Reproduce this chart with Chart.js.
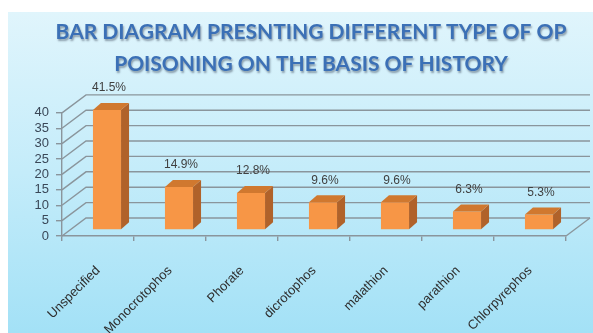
<!DOCTYPE html>
<html>
<head>
<meta charset="utf-8">
<script src="https://cdn.jsdelivr.net/npm/chart.js@4"></script>
<style>
  html, body { margin: 0; padding: 0; background: #fff; }
  #wrap { width: 593px; height: 333px; }
</style>
</head>
<body>
<div id="wrap"><canvas id="opChart" width="593" height="333"></canvas></div>
<script>
const titleLines = ['BAR DIAGRAM PRESNTING DIFFERENT TYPE OF OP', 'POISONING ON THE BASIS OF HISTORY']
const categories = ['Unspecified', 'Monocrotophos', 'Phorate', 'dicrotophos', 'malathion', 'parathion', 'Chlorpyrephos']
const cases = [39, 14, 12, 9, 9, 6, 5]
const percentLabels = ['41.5%', '14.9%', '12.8%', '9.6%', '9.6%', '6.3%', '5.3%']
const yMin = 0
const yMax = 40
const yStep = 5

const gridColor = '#8a959c'
const depth = { x: 24, y: -18 }     // side wall / back wall offset
const barShift = { x: 9, y: -6 }    // bars stand a bit inside the floor
const barDepth = { x: 8, y: -7 }

const colors = {
    front: '#F79646',
    side: '#B0622A',
    top: '#D0782F'
}

// background panel, white frame on top and left
const panelBg = {
    id: 'panelBg',
    beforeDraw(chart) {
        const ctx = chart.ctx
        ctx.save()
        ctx.fillStyle = '#ffffff'
        ctx.fillRect(0, 0, chart.width, chart.height)
        const g = ctx.createLinearGradient(0, 12, 0, chart.height)
        g.addColorStop(0, '#e0f5fc')
        g.addColorStop(0.5, '#c4ecfa')
        g.addColorStop(1, '#a3e1f6')
        ctx.fillStyle = g
        ctx.fillRect(8, 12, chart.width - 8, chart.height - 12)
        ctx.restore()
    }
}

// title drawn by chart.js, just nudged right and given a shadow
const titleShadow = {
    id: 'titleShadow',
    afterLayout(chart) {
        const t = chart.titleBlock
        if (!t || t._shadowed) return
        const draw = t.draw
        t.draw = function () {
            const ctx = this.ctx
            ctx.save()
            ctx.translate(24, 0)
            ctx.shadowColor = 'rgba(40, 50, 70, 0.45)'
            ctx.shadowBlur = 2
            ctx.shadowOffsetX = 1
            ctx.shadowOffsetY = 2
            draw.apply(this, arguments)
            ctx.restore()
        }
        t._shadowed = true
    }
}

// 3d walls, bar sides and the % labels
const threeD = {
    id: 'threeD',
    beforeDatasetsDraw(chart) {
        const ctx = chart.ctx
        const y = chart.scales.y
        const a = chart.chartArea
        ctx.save()
        ctx.strokeStyle = gridColor
        ctx.lineWidth = 1.4
        for (let v = yMin; v <= yMax; v += yStep) {
            const py = y.getPixelForValue(v)
            ctx.beginPath()
            ctx.moveTo(a.left, py)
            ctx.lineTo(a.left + depth.x, py + depth.y)
            ctx.lineTo(a.right + depth.x, py + depth.y)
            ctx.stroke()
        }
        // right end of the floor
        ctx.beginPath()
        ctx.moveTo(a.right, a.bottom)
        ctx.lineTo(a.right + depth.x, a.bottom + depth.y)
        ctx.stroke()
        ctx.restore()

        ctx.save()
        ctx.translate(barShift.x, barShift.y)
    },
    afterDatasetsDraw(chart) {
        const ctx = chart.ctx
        const bars = chart.getDatasetMeta(0).data
        bars.forEach(b => {
            const l = b.x - b.width / 2
            const r = b.x + b.width / 2
            ctx.fillStyle = colors.side
            ctx.beginPath()
            ctx.moveTo(r, b.y)
            ctx.lineTo(r + barDepth.x, b.y + barDepth.y)
            ctx.lineTo(r + barDepth.x, b.base + barDepth.y)
            ctx.lineTo(r, b.base)
            ctx.closePath()
            ctx.fill()
            ctx.fillStyle = colors.top
            ctx.beginPath()
            ctx.moveTo(l, b.y)
            ctx.lineTo(l + barDepth.x, b.y + barDepth.y)
            ctx.lineTo(r + barDepth.x, b.y + barDepth.y)
            ctx.lineTo(r, b.y)
            ctx.closePath()
            ctx.fill()
        })
        ctx.restore()

        ctx.save()
        ctx.font = '12px "Liberation Sans"'
        ctx.fillStyle = '#404040'
        ctx.textAlign = 'center'
        ctx.textBaseline = 'middle'
        bars.forEach((b, i) => {
            ctx.fillText(percentLabels[i], b.x + barShift.x + 2, b.y + barShift.y - 22)
        })
        ctx.restore()
    }
}

const ctx = document.getElementById('opChart').getContext('2d')

new Chart(ctx, {
    type: 'bar',
    data: {
        labels: categories,
        datasets: [{
            label: 'Cases',
            data: cases,
            backgroundColor: colors.front,
            borderWidth: 0,
            categoryPercentage: 1,
            barPercentage: 0.39
        }]
    },
    options: {
        responsive: false,
        animation: false,
        layout: { padding: { left: 8, right: 27, top: 8, bottom: 0 } },
        plugins: {
            legend: { display: false },
            tooltip: { enabled: false },
            title: {
                display: true,
                text: titleLines,
                color: '#3b70b6',
                font: { family: 'Lato', size: 21, weight: 'bold', lineHeight: 1.52 },
                padding: { top: 8, bottom: 33 }
            }
        },
        scales: {
            x: {
                afterFit: s => { s.height = 97 },
                border: { display: true, color: gridColor, width: 1.4 },
                grid: { drawOnChartArea: false, offset: true, tickLength: 5, color: gridColor, lineWidth: 1.4 },
                ticks: {
                    minRotation: 45,
                    maxRotation: 45,
                    padding: 22,
                    color: '#2f2f2f',
                    font: { family: 'Liberation Sans', size: 13 }
                }
            },
            y: {
                min: yMin,
                max: yMax,
                afterFit: s => { s.width = 54 },
                border: { display: true, color: gridColor, width: 1.4 },
                grid: { drawOnChartArea: false, tickLength: 6, color: gridColor, lineWidth: 1.4 },
                ticks: {
                    stepSize: yStep,
                    autoSkip: false,
                    padding: 7,
                    color: '#3a4858',
                    font: { family: 'Liberation Sans', size: 13 }
                }
            }
        }
    },
    plugins: [panelBg, titleShadow, threeD]
});
</script>
</body>
</html>
